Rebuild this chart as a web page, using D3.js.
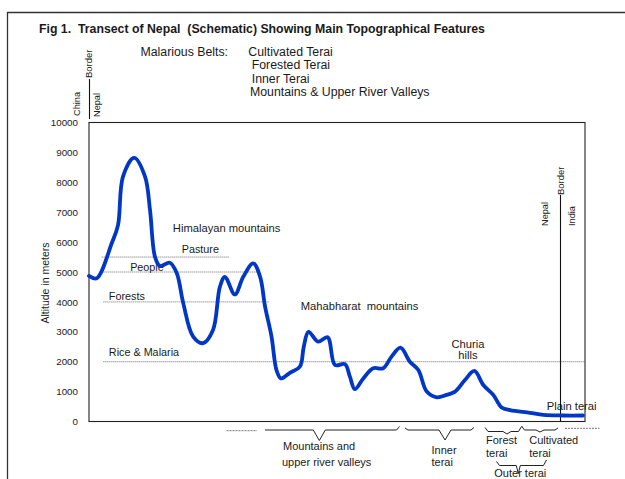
<!DOCTYPE html>
<html><head><meta charset="utf-8">
<script src="https://cdn.jsdelivr.net/npm/d3@7"></script>
<style>
html,body{margin:0;padding:0;background:#fff;}
svg{display:block;font-family:"Liberation Sans",Arial,Helvetica,sans-serif;}
text{white-space:pre;fill:#1a1a1a;}
</style></head>
<body>
<script>
// ---- data ----
const distance = [0,1.55,4.6,5.85,6.85,9.1,11.3,12.3,13.3,14.3,16.3,17.7,19.0,21.0,23.0,25.0,26.4,27.4,29.4,31.1,33.1,34.5,35.5,36.8,37.8,38.7,40.5,42.5,43.3,44.25,46.2,48.1,49.6,51.6,52.6,53.6,55.3,57.3,59.3,61.0,62.8,64.7,66.4,68.1,70.1,72.1,73.8,75.8,77.7,79.5,81.5,83.2,84.9,88.9,91.6,95.6,99.6];
const altitude = [4870,4790,5970,6570,8190,8820,8190,7070,5510,5200,5310,4960,3960,2840,2620,3060,4510,4840,4250,4840,5290,4840,3840,2840,1720,1440,1630,1830,2500,3000,2670,2820,1890,1920,1500,1080,1440,1780,1780,2170,2470,2000,1720,1000,810,890,1000,1390,1690,1220,890,470,380,290,220,200,200];
const yTicks = [0,1000,2000,3000,4000,5000,6000,7000,8000,9000,10000];
const levelNames = ["Pasture","People","Forests","Rice & Malaria"];
const levelAlt = [5500,5000,4000,2000];
const levelFrom = [2.55,2.55,2.9,2.9];
const levelTo = [28.3,33.8,36.4,100];
const title = "Fig 1.  Transect of Nepal  (Schematic) Showing Main Topographical Features";
const beltsHeading = "Malarious Belts:";
const belts = ["Cultivated Terai"," Forested Terai"," Inner Terai","Mountains & Upper River Valleys"];
const yTitle = "Altitude in meters";

// ---- layout ----
const W = 625, H = 479;
const svg = d3.select("body").append("svg").attr("width", W).attr("height", H);
const x = d3.scaleLinear().domain([0,100]).range([89,585]);
const y = d3.scaleLinear().domain([0,10000]).range([421.5,122.5]);

// outer frame
svg.append("path").attr("d","M7.5,479 L7.5,12.5 L625,12.5").attr("fill","none").attr("stroke","#333").attr("stroke-width",1.3);

// title
svg.append("text").attr("x",39).attr("y",29).attr("dy","0.35em")
  .attr("font-size",12.3).attr("font-weight","bold").attr("fill","#111").text(title);

// legend belts
svg.append("text").attr("x",140.5).attr("y",51.7).attr("dy","0.35em").attr("font-size",12.3).text(beltsHeading);
const beltX = [248.3,248.3,248.3,250];
const beltY = [51.7,65,78.8,91.9];
belts.forEach((b,i)=>{
  svg.append("text").attr("x",beltX[i]).attr("y",beltY[i]).attr("dy","0.35em").attr("font-size",12.3).text(b);
});

// plot frame
svg.append("rect").attr("x",x(0)).attr("y",y(10000)).attr("width",x(100)-x(0)).attr("height",y(0)-y(10000))
  .attr("fill","none").attr("stroke","#222").attr("stroke-width",1.1);

// y axis (labels only)
const yAxis = d3.axisLeft(y).tickValues(yTicks).tickSize(0).tickPadding(11).tickFormat(d3.format("d"));
const ya = svg.append("g").attr("transform",`translate(${x(0)},0)`).call(yAxis);
ya.select(".domain").remove();
ya.selectAll("text").attr("font-size",9.8).attr("fill","#1a1a1a").attr("font-family","Liberation Sans, Arial, sans-serif");

svg.append("text").attr("transform",`translate(45,283) rotate(-90)`).attr("text-anchor","middle").attr("dy","0.35em")
  .attr("font-size",10.5).text(yTitle);

// reference levels
levelNames.forEach((n,i)=>{
  svg.append("line").attr("x1",x(levelFrom[i])).attr("x2",x(levelTo[i])).attr("y1",y(levelAlt[i])).attr("y2",y(levelAlt[i]))
    .attr("stroke","#444").attr("stroke-width",0.8).attr("stroke-dasharray","1,1");
});
const levelLabelX = [18.7,8.3,4.0,4.0];
const levelLabelAlt = [5770,5160,4200,2330];
levelNames.forEach((n,i)=>{
  svg.append("text").attr("x",x(levelLabelX[i])).attr("y",y(levelLabelAlt[i])).attr("dy","0.35em").attr("font-size",10.8).text(n);
});

// region labels
const regionNames = ["Himalayan mountains","Mahabharat  mountains","Plain terai"];
const regionX = [16.9,42.7,92.3];
const regionAlt = [6460,3860,520];
regionNames.forEach((n,i)=>{
  svg.append("text").attr("x",x(regionX[i])).attr("y",y(regionAlt[i])).attr("dy","0.35em").attr("font-size",11.2).text(n);
});
svg.append("text").attr("x",x(76.4)).attr("y",y(2590)).attr("dy","0.35em").attr("text-anchor","middle").attr("font-size",11.2).text("Churia");
svg.append("text").attr("x",x(76.4)).attr("y",y(2210)).attr("dy","0.35em").attr("text-anchor","middle").attr("font-size",11.2).text("hills");

// Nepal / India border
svg.append("line").attr("x1",560.5).attr("x2",560.5).attr("y1",195).attr("y2",y(0)).attr("stroke","#111").attr("stroke-width",1.1);
function vtext(tx,ty,s,fs){
  svg.append("text").attr("transform",`translate(${tx},${ty}) rotate(-90)`).attr("font-size",fs).text(s);
}
vtext(563.5,195,"Border",9.5);
vtext(547.5,226,"Nepal",9.2);
vtext(575,226,"India",9.2);

// China / Nepal border
svg.append("line").attr("x1",89.5).attr("x2",89.5).attr("y1",79).attr("y2",119).attr("stroke","#111").attr("stroke-width",1.1);
vtext(91.5,78,"Border",9.5);
vtext(79.5,116,"China",9.2);
vtext(99.5,117,"Nepal",9.2);

// profile curve
const pts = distance.map((d,i)=>[d,altitude[i]]);
const line = d3.line().x(d=>x(d[0])).y(d=>y(d[1])).curve(d3.curveCatmullRom.alpha(0.5));
svg.append("path").datum(pts).attr("d",line).attr("fill","none").attr("stroke","#0037c6").attr("stroke-width",3.8)
  .attr("stroke-linejoin","round").attr("stroke-linecap","round");

// bottom braces
const g = svg.append("g").attr("fill","none").attr("stroke","#222").attr("stroke-width",1);
function brace(x1,x2,xt,yb,depth,c1,c2,w){
  const p = d3.path();
  p.moveTo(x1,yb-c1); p.lineTo(x1+3,yb); p.lineTo(xt-w,yb); p.lineTo(xt,yb+depth);
  p.lineTo(xt+w,yb); p.lineTo(x2-3,yb); p.lineTo(x2,yb-c2);
  g.append("path").attr("d",p.toString());
}
brace(265,399.5,319.3,430,10.5,0,3.5,6);
brace(405,474,445,430,10,2,2.5,6);
brace(485,521.5,507,431.5,2.5,4,5,4);
brace(521.5,558,540,430,2,4,2,4);
brace(496.5,546.5,518.3,465.5,8,4,5.5,2);
svg.append("line").attr("x1",226.5).attr("x2",257).attr("y1",430.7).attr("y2",430.7).attr("stroke","#666").attr("stroke-width",0.9).attr("stroke-dasharray","2,1");
svg.append("line").attr("x1",565).attr("x2",599.5).attr("y1",428.3).attr("y2",428.3).attr("stroke","#666").attr("stroke-width",0.9).attr("stroke-dasharray","2,1");

const bottomText = [["Mountains and",283,446.5],["upper river valleys",282,462],["Inner",431.5,450],["terai",431.5,462],
  ["Forest",486,440.5],["terai",486,453.5],["Cultivated",529.3,440.5],["terai",529.3,453.5],["Outer terai",494.3,473.5]];
bottomText.forEach(t=>{
  svg.append("text").attr("x",t[1]).attr("y",t[2]).attr("dy","0.35em").attr("font-size",11).text(t[0]);
});
</script>
</body></html>
